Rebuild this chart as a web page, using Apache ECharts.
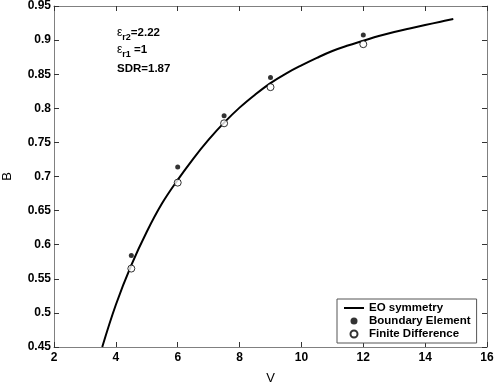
<!DOCTYPE html>
<html><head><meta charset="utf-8">
<script src="https://cdn.jsdelivr.net/npm/echarts@6/dist/echarts.min.js"></script>
<style>html,body{margin:0;padding:0;background:#fff}#c{width:496px;height:384px}</style>
</head><body><div id="c"></div>
<script>
// EO symmetry curve (V, B)
const curveV = [3.56, 4.0, 4.5, 5.0, 5.5, 6.0, 6.5, 7.0, 7.5, 8.0, 8.5, 9.0, 9.5, 10.0, 10.5, 11.0, 11.5, 12.0, 12.5, 13.0, 13.5, 14.0, 14.5, 14.91];
const curveB = [0.450, 0.512, 0.570, 0.619, 0.661, 0.695, 0.726, 0.754, 0.779, 0.801, 0.820, 0.837, 0.851, 0.863, 0.874, 0.884, 0.892, 0.899, 0.906, 0.912, 0.917, 0.922, 0.927, 0.931];
// Boundary Element points
const beV = [4.5, 6.0, 7.5, 9.0, 12.0];
const beB = [0.584, 0.714, 0.789, 0.845, 0.9075];
// Finite Difference points
const fdV = [4.5, 6.0, 7.5, 9.0, 12.0];
const fdB = [0.565, 0.691, 0.778, 0.831, 0.894];
// axis ticks
const xMin = 2, xMax = 16, xStep = 2;
const yMin = 0.45, yMax = 0.95, yStep = 0.05;
// annotation lines
const annot = [['ε', 'r2', '=2.22'], ['ε', 'r1', ' =1'], ['', '', 'SDR=1.87']];

const zip = (a, b) => a.map((v, i) => [v, b[i]]);
const FF = 'Liberation Sans, Arial, sans-serif';
const chart = echarts.init(document.getElementById('c'));
const axisColor = '#808080';
const lab = {color: '#000', fontWeight: 'bold', fontSize: 12, fontFamily: FF};
const annotTops = [27, 44, 63];
chart.setOption({
  animation: false,
  grid: {left: 54, right: 9, top: 6, bottom: 37, outerBoundsMode: 'none', containLabel: false},
  xAxis: [
    {type: 'value', min: xMin, max: xMax, interval: xStep, name: 'V', nameLocation: 'middle', nameGap: 25,
     nameTextStyle: {fontSize: 13, color: '#000', fontFamily: FF},
     axisLine: {show: true, lineStyle: {color: axisColor}}, axisTick: {inside: true, length: 5, lineStyle: {color: '#333'}},
     axisLabel: Object.assign({margin: 5}, lab), splitLine: {show: false}},
    {type: 'value', position: 'top', min: xMin, max: xMax, interval: xStep,
     axisLine: {show: true, lineStyle: {color: axisColor}}, axisTick: {inside: true, length: 5, lineStyle: {color: '#333'}},
     axisLabel: {show: false}, splitLine: {show: false}}
  ],
  yAxis: [
    {type: 'value', min: yMin, max: yMax, interval: yStep, name: 'B', nameLocation: 'middle', nameGap: 40,
     nameTextStyle: {fontSize: 13, color: '#000', fontFamily: FF},
     axisLine: {show: true, lineStyle: {color: axisColor}}, axisTick: {inside: true, length: 5, lineStyle: {color: '#333'}},
     axisLabel: Object.assign({margin: 3}, lab), splitLine: {show: false}},
    {type: 'value', position: 'right', min: yMin, max: yMax, interval: yStep,
     axisLine: {show: true, lineStyle: {color: axisColor}}, axisTick: {inside: true, length: 5, lineStyle: {color: '#333'}},
     axisLabel: {show: false}, splitLine: {show: false}}
  ],
  legend: {
    left: 337, top: 299, orient: 'vertical', itemGap: 1, padding: [3, 6, 3, 7],
    borderColor: '#555', borderWidth: 1, backgroundColor: '#fff',
    itemWidth: 20, itemHeight: 7,
    textStyle: {fontSize: 11.5, fontWeight: 'bold', color: '#000', fontFamily: FF},
    data: [
      {name: 'EO symmetry', icon: 'path://M0,0h20v2h-20z', itemStyle: {color: '#000'}},
      {name: 'Boundary Element'},
      {name: 'Finite Difference'}
    ]
  },
  series: [
    {name: 'EO symmetry', type: 'line', data: zip(curveV, curveB), smooth: 0.4, showSymbol: false, symbol: 'none',
     lineStyle: {color: '#000', width: 2}, itemStyle: {color: '#000'}, z: 2},
    {name: 'Boundary Element', type: 'scatter', data: zip(beV, beB), symbol: 'circle', symbolSize: 5,
     itemStyle: {color: '#000'}, z: 3},
    {name: 'Finite Difference', type: 'scatter', data: zip(fdV, fdB), symbol: 'circle', symbolSize: 7,
     itemStyle: {color: '#fff', borderColor: '#000', borderWidth: 1}, z: 3}
  ],
  graphic: annot.map((a, i) => ({
    type: 'text', left: 117, top: annotTops[i],
    style: {
      text: (a[0] ? '{e|' + a[0] + '}{s|' + a[1] + '}' : '') + '{b|' + a[2] + '}',
      rich: {
        e: {fontSize: 12, fontFamily: FF, fill: '#000'},
        s: {fontSize: 9, fontWeight: 'bold', fontFamily: FF, fill: '#000', padding: [9, 0, 0, 0]},
        b: {fontSize: 11.5, fontWeight: 'bold', fontFamily: FF, fill: '#000'}
      }
    }
  }))
});
</script></body></html>
